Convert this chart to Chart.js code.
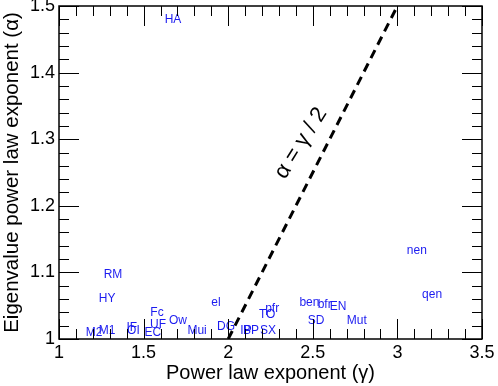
<!DOCTYPE html>
<html>
<head>
<meta charset="utf-8">
<script src="https://cdn.jsdelivr.net/npm/chart.js@4/dist/chart.umd.min.js"></script>
<style>
  html, body { margin: 0; padding: 0; background: #fff; }
  canvas { display: block; }
</style>
</head>
<body>
<canvas id="c" width="498" height="386"></canvas>
<script>
// Network names and their (gamma, alpha) exponents
const names  = ["HA", "RM", "HY", "Fc", "UF", "Ow", "el", "DG", "Mui", "M2", "M1", "IF", "OI", "EC",
                "IP", "BP", "SX", "TO", "pfr", "ben", "bfr", "EN", "SD", "Mut", "nen", "qen"];
const gammas = [1.674, 1.319, 1.284, 1.579, 1.585, 1.703, 1.928, 1.987, 1.816, 1.207, 1.284, 1.43, 1.44, 1.555,
                2.105, 2.135, 2.235, 2.23, 2.26, 2.48, 2.57, 2.65, 2.52, 2.76, 3.115, 3.205];
const alphas = [1.479, 1.097, 1.061, 1.039, 1.021, 1.028, 1.054, 1.018, 1.012, 1.010, 1.012, 1.017, 1.012, 1.010,
                1.013, 1.013, 1.013, 1.037, 1.046, 1.055, 1.052, 1.049, 1.028, 1.027, 1.133, 1.067];

// alpha = gamma / 2 reference line
const refGamma = [2, 3];
const refAlpha = [1, 1.5];

const xTicks = [1, 1.5, 2, 2.5, 3, 3.5];
const yTicks = [1, 1.1, 1.2, 1.3, 1.4, 1.5];

const FONT = "'Liberation Sans', Arial, Helvetica, sans-serif";
const fmt = v => String(Math.round(v * 10) / 10);

// frame with inward major/minor ticks on all four sides + text labels
const frame = {
  id: "frame",
  afterDatasetsDraw(chart) {
    const { ctx, scales: { x, y } } = chart;
    ctx.save();
    // point labels
    const meta = chart.getDatasetMeta(0);
    ctx.fillStyle = "#1c1cf0";
    ctx.font = "12px " + FONT;
    ctx.textAlign = "center";
    ctx.textBaseline = "middle";
    meta.data.forEach((p, i) => ctx.fillText(names[i], p.x, p.y));

    // slope label
    ctx.fillStyle = "#000";
    ctx.font = "22px " + FONT;
    ctx.translate(x.getPixelForValue(2.43), y.getPixelForValue(1.294));
    ctx.rotate(-58 * Math.PI / 180);
    ctx.fillText("\u03b1 = \u03b3 / 2", 0, 0);
    ctx.restore();
  },
  afterDraw(chart) {
    const { ctx, chartArea: a, scales: { x, y } } = chart;
    ctx.save();
    ctx.strokeStyle = "#000";
    ctx.lineWidth = 1;
    for (let i = 10; i <= 35; i++) {
      const px = Math.round(x.getPixelForValue(i / 10)) + 0.5;
      const len = i % 5 === 0 ? 20 : 10;
      ctx.beginPath();
      ctx.moveTo(px, a.bottom); ctx.lineTo(px, a.bottom - len);
      ctx.moveTo(px, a.top); ctx.lineTo(px, a.top + len);
      ctx.stroke();
    }
    for (let i = 50; i <= 75; i++) {
      const py = Math.round(y.getPixelForValue(i / 50)) + 0.5;
      const len = i % 5 === 0 ? 20 : 10;
      ctx.beginPath();
      ctx.moveTo(a.left, py); ctx.lineTo(a.left + len, py);
      ctx.moveTo(a.right, py); ctx.lineTo(a.right - len, py);
      ctx.stroke();
    }
    ctx.lineWidth = 1.5;
    ctx.strokeRect(a.left, a.top, a.right - a.left, a.bottom - a.top);
    ctx.restore();
  }
};

new Chart(document.getElementById("c"), {
  data: {
    datasets: [
      { type: "scatter", data: gammas.map((g, i) => ({ x: g, y: alphas[i] })), pointRadius: 0 },
      { type: "line", data: refGamma.map((g, i) => ({ x: g, y: refAlpha[i] })),
        borderColor: "#000", borderWidth: 3, borderDash: [9, 6], pointRadius: 0, fill: false }
    ]
  },
  options: {
    responsive: false,
    animation: false,
    layout: { padding: { top: 6, right: 16, left: 0, bottom: 0 } },
    plugins: { legend: { display: false }, tooltip: { enabled: false } },
    scales: {
      x: {
        type: "linear", min: 1, max: 3.5,
        afterBuildTicks: s => { s.ticks = xTicks.map(v => ({ value: v })); },
        afterFit: s => { s.height = 47; s.paddingLeft = 0; s.paddingRight = 0; },
        grid: { display: false, drawTicks: false },
        border: { display: false },
        ticks: { color: "#000", font: { family: FONT, size: 18 }, padding: 3, maxRotation: 0, callback: fmt },
        title: { display: true, text: "Power law exponent (\u03b3)", color: "#000",
                 font: { family: FONT, size: 20 }, padding: { top: 0, bottom: 1 } }
      },
      y: {
        type: "linear", min: 1, max: 1.5,
        afterBuildTicks: s => { s.ticks = yTicks.map(v => ({ value: v })); },
        afterFit: s => { s.width = 59; s.paddingTop = 0; s.paddingBottom = 0; },
        grid: { display: false, drawTicks: false },
        border: { display: false },
        ticks: { color: "#000", font: { family: FONT, size: 18 }, padding: 4, callback: fmt },
        title: { display: true, text: "Eigenvalue power law exponent (\u03b1)", color: "#000",
                 font: { family: FONT, size: 20.5 }, padding: { top: 0, bottom: 0 } }
      }
    }
  },
  plugins: [frame]
});
</script>
</body>
</html>
